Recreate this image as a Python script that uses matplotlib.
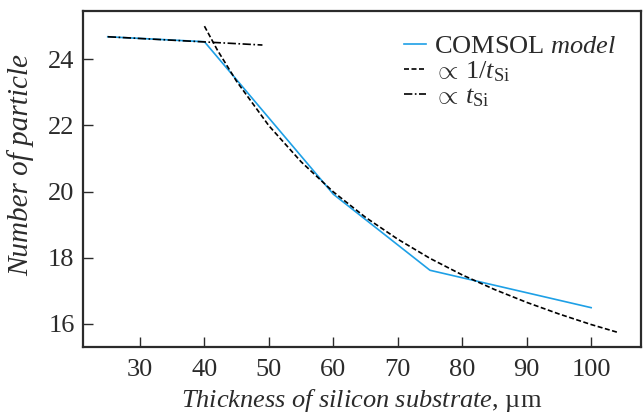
import numpy as np
import matplotlib
matplotlib.use("Agg")
import matplotlib.pyplot as plt

plt.rcParams['font.family'] = ['Liberation Serif', 'DejaVu Serif']
plt.rcParams['mathtext.fontset'] = 'custom'
plt.rcParams['mathtext.rm'] = 'Liberation Serif'
plt.rcParams['mathtext.it'] = 'Liberation Serif:italic'

# COMSOL model
t_model = [25, 40, 60, 75, 100]
n_model = [24.68, 24.53, 19.92, 17.62, 16.49]

# fit ~ 1/t_Si
t_inv = [40, 42, 45, 50, 55, 60, 65, 70, 75, 80, 85, 90, 95, 100, 104]
n_inv = [25.0, 24.28, 23.33, 21.99, 20.90, 19.99, 19.22, 18.56, 17.98,
         17.48, 17.04, 16.65, 16.30, 15.98, 15.75]

# fit ~ t_Si
t_lin = [25, 49]
n_lin = [24.68, 24.43]

txt = '#2b2b2b'
fs = 19

fig = plt.figure(figsize=(6.43, 4.15), dpi=100)
ax = fig.add_axes([0.129, 0.1646, 0.8675, 0.809])

ax.plot(t_model, n_model, color='#1ea0e6', lw=1.2, label='COMSOL $\\it{model}$')
ax.plot(t_inv, n_inv, color='black', lw=1.2, ls=(0, (3, 1.5)), label='$\\propto\\, 1/t_{\\rm Si}$')
ax.plot(t_lin, n_lin, color='black', lw=1.2, ls=(0, (5, 1.5, 1, 1.5)), label='$\\propto\\, t_{\\rm Si}$')

ax.set_xlim(21.15, 107.7)
ax.set_ylim(15.31, 25.46)
ax.set_xticks([30, 40, 50, 60, 70, 80, 90, 100])
ax.set_yticks([16, 18, 20, 22, 24])

for s in ax.spines.values():
    s.set_linewidth(1.6)
    s.set_color(txt)
ax.tick_params(direction='in', length=7, width=1, colors=txt, labelsize=fs)
ax.tick_params(axis='x', pad=9)
ax.tick_params(axis='y', pad=6)

ax.set_xlabel('$\\it{Thickness\\ of\\ silicon\\ substrate}$, µm', fontsize=fs, color=txt, labelpad=4)
ax.set_ylabel('Number of particle', fontsize=21, color=txt, style='italic', labelpad=6)
ax.yaxis.set_label_coords(-0.087, 0.54)

leg = ax.legend(loc='upper right', bbox_to_anchor=(0.99, 0.985), frameon=False, fontsize=fs,
                handlelength=0.85, handletextpad=0.3, labelspacing=0.05, borderaxespad=0.3)
for t in leg.get_texts():
    t.set_color(txt)

fig.savefig('out.png', dpi=100)
